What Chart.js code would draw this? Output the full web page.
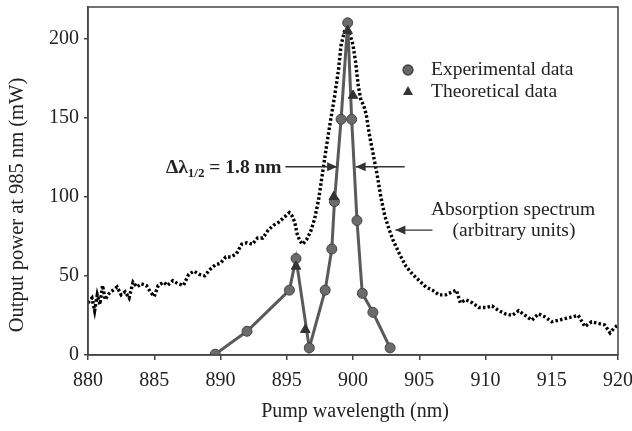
<!DOCTYPE html>
<html>
<head>
<meta charset="utf-8">
<script src="https://cdn.jsdelivr.net/npm/chart.js@4/dist/chart.umd.min.js"></script>
<style>
  html, body { margin: 0; padding: 0; background: #fff; }
</style>
</head>
<body>
<canvas id="c" width="632" height="431"></canvas>
<script>
// data
const expWl  = [889.6, 892.0, 895.2, 895.7, 896.7, 897.9, 898.4, 898.6, 899.1, 899.6, 899.9, 900.3, 900.7, 901.5, 902.8];
const expPow = [0.5, 15, 41, 61, 4.5, 41, 67, 97, 149, 210, 149, 85, 39, 27, 4.5];

const theoWl  = [895.7, 896.4, 898.55, 899.6, 900.0];
const theoPow = [56, 16, 100, 205, 164];

const absWl = [880.0, 880.3, 880.5, 880.7, 880.9, 881.1, 881.3, 881.6, 881.9, 882.2, 882.5, 882.8, 883.1, 883.4, 883.7,
  884.0, 884.4, 884.7, 885.0, 885.3, 885.7, 886.0, 886.4, 886.8, 887.2, 887.6, 888.0, 888.4, 888.8, 889.2, 889.6,
  890.0, 890.4, 890.8, 891.2, 891.6, 892.0, 892.4, 892.8, 893.2, 893.6, 894.0, 894.4, 894.8, 895.2, 895.4, 895.6,
  895.8, 896.0, 896.2, 896.5, 896.8, 897.1, 897.4, 897.7, 898.0, 898.3, 898.6, 898.9, 899.1, 899.4, 899.6, 899.8,
  900.0, 900.2, 900.4, 900.6, 900.8, 901.0, 901.2, 901.5, 901.8, 902.1, 902.4, 902.7, 903.0, 903.5, 904.0, 904.5,
  905.0, 905.5, 906.0, 906.5, 907.0, 907.5, 907.8, 908.1, 908.5, 909.0, 909.5, 910.0, 910.5, 911.0, 911.5, 912.0,
  912.5, 913.0, 913.5, 914.0, 914.5, 915.0, 915.5, 916.0, 916.5, 917.0, 917.5, 918.0, 918.5, 919.0, 919.4, 919.7, 920.0];
const absVal = [33, 36, 28, 38, 32, 44, 35, 39, 41, 43, 38, 40, 36, 46, 43,
  45, 44, 40, 37, 44, 46, 44, 47, 45, 44, 51, 53, 51, 50, 54, 57,
  58, 62, 62, 64, 70, 71, 70, 74, 74, 79, 82, 84, 87, 90, 88, 84,
  76, 72, 70, 73, 78, 86, 98, 115, 132, 148, 163, 180, 196, 206, 205, 202,
  196, 185, 170, 161, 158, 152, 141, 128, 115, 100, 88, 80, 73, 64, 56, 51,
  47, 43, 41, 38, 38, 40, 41, 33, 35, 33, 30, 30, 31, 28, 26, 25,
  28, 25, 22, 26, 24, 21, 22, 23, 24, 25, 18, 21, 20, 19, 14, 17, 19];

const xTicks = [880, 885, 890, 895, 900, 905, 910, 915, 920];
const yTicks = [0, 50, 100, 150, 200];

const pts = (xs, ys) => xs.map((v, i) => ({ x: v, y: ys[i] }));
const SERIF = '"Liberation Serif", "Times New Roman", serif';
const INK = '#222';
const AXIS = '#444';

// arrow with a filled head at (x2, y2)
function arrow(ctx, x1, y1, x2, y2) {
  ctx.beginPath();
  ctx.moveTo(x1, y1);
  ctx.lineTo(x2, y2);
  ctx.stroke();
  const dir = Math.sign(x2 - x1);
  ctx.beginPath();
  ctx.moveTo(x2, y2);
  ctx.lineTo(x2 - dir * 10, y2 - 4.5);
  ctx.lineTo(x2 - dir * 10, y2 + 4.5);
  ctx.closePath();
  ctx.fill();
}

// no extra room for tick label overflow, the layout padding decides
function noOverflow(s) {
  s.paddingTop = 0; s.paddingBottom = 0; s.paddingLeft = 0; s.paddingRight = 0;
}

const decor = {
  id: 'decor',
  afterDraw(chart) {
    const { ctx, chartArea: a, scales: { x, y } } = chart;
    ctx.save();
    // box round the plot
    ctx.strokeStyle = AXIS;
    ctx.lineWidth = 1.5;
    ctx.strokeRect(a.left, a.top, a.right - a.left, a.bottom - a.top);

    ctx.fillStyle = INK;
    ctx.strokeStyle = INK;
    ctx.lineWidth = 1.3;

    // legend
    const lx = 408;
    ctx.fillStyle = '#666';
    ctx.strokeStyle = '#444';
    ctx.beginPath(); ctx.arc(lx, 70, 5, 0, Math.PI * 2); ctx.fill(); ctx.stroke();
    ctx.fillStyle = '#333';
    ctx.beginPath(); ctx.moveTo(lx, 86); ctx.lineTo(lx + 5, 95); ctx.lineTo(lx - 5, 95); ctx.closePath(); ctx.fill();
    ctx.fillStyle = INK;
    ctx.font = '19.5px ' + SERIF;
    ctx.textBaseline = 'middle';
    ctx.fillText('Experimental data', 431, 70);
    ctx.fillText('Theoretical data', 431, 92);

    // FWHM annotation
    const yF = y.getPixelForValue(119);
    ctx.textBaseline = 'alphabetic';
    let tx = 166;
    ctx.font = 'bold 19.5px ' + SERIF;
    ctx.fillText('\u0394\u03bb', tx, yF + 6);
    tx += ctx.measureText('\u0394\u03bb').width;
    ctx.font = 'bold 13px ' + SERIF;
    ctx.fillText('1/2', tx, yF + 10);
    tx += ctx.measureText('1/2').width;
    ctx.font = 'bold 19.5px ' + SERIF;
    ctx.fillText(' = 1.8 nm', tx, yF + 6);
    ctx.strokeStyle = '#333';
    ctx.fillStyle = '#333';
    arrow(ctx, x.getPixelForValue(894.9), yF, x.getPixelForValue(898.8), yF);
    arrow(ctx, x.getPixelForValue(903.9), yF, x.getPixelForValue(900.2), yF);

    // absorption label
    const yA = y.getPixelForValue(79);
    arrow(ctx, x.getPixelForValue(906.0), yA, x.getPixelForValue(903.2), yA);
    ctx.fillStyle = INK;
    ctx.font = '19.5px ' + SERIF;
    ctx.textAlign = 'center';
    ctx.textBaseline = 'middle';
    ctx.fillText('Absorption spectrum', 513, 210);
    ctx.fillText('(arbitrary units)', 514, 231);

    // axis titles
    ctx.font = '20px ' + SERIF;
    ctx.fillText('Pump wavelength (nm)', 355, 412);
    ctx.font = '20.5px ' + SERIF;
    ctx.translate(18, 205);
    ctx.rotate(-Math.PI / 2);
    ctx.fillText('Output power at 985 nm (mW)', 0, 0);
    ctx.restore();
  }
};

new Chart(document.getElementById('c'), {
  type: 'scatter',
  data: {
    datasets: [
      {
        label: 'Theoretical data',
        data: pts(theoWl, theoPow),
        pointStyle: 'triangle',
        pointRadius: 5.5,
        backgroundColor: '#333',
        borderColor: '#333',
        borderWidth: 1,
        showLine: false,
        order: 1
      },
      {
        label: 'Experimental data',
        data: pts(expWl, expPow),
        showLine: true,
        borderColor: '#5a5a5a',
        borderWidth: 3,
        pointRadius: 5,
        pointBackgroundColor: '#6b6b6b',
        pointBorderColor: '#444',
        pointBorderWidth: 1,
        tension: 0,
        order: 2
      },
      {
        label: 'Absorption spectrum',
        data: pts(absWl, absVal),
        showLine: true,
        borderColor: '#000',
        borderWidth: 3.4,
        borderDash: [2.5, 2.2],
        pointRadius: 0,
        tension: 0,
        order: 3
      }
    ]
  },
  options: {
    responsive: false,
    animation: false,
    layout: { padding: { top: 7, right: 14, left: 0, bottom: 0 } },
    plugins: { legend: { display: false }, tooltip: { enabled: false } },
    scales: {
      x: {
        type: 'linear',
        min: 880,
        max: 920,
        afterBuildTicks(s) { s.ticks = xTicks.map(v => ({ value: v })); },
        afterFit(s) { s.height = 76; noOverflow(s); },
        ticks: { font: { family: SERIF, size: 20 }, color: INK, padding: 9 },
        grid: { drawOnChartArea: false, drawTicks: true, tickLength: 5, color: AXIS, lineWidth: 1.5 },
        border: { display: true, color: AXIS, width: 1.5 }
      },
      y: {
        min: 0,
        max: 220,
        afterBuildTicks(s) { s.ticks = yTicks.map(v => ({ value: v })); },
        afterFit(s) { s.width = 88; noOverflow(s); },
        ticks: { font: { family: SERIF, size: 20 }, color: INK, padding: 5 },
        grid: { drawOnChartArea: false, drawTicks: true, tickLength: 4, color: AXIS, lineWidth: 1.5 },
        border: { display: true, color: AXIS, width: 1.5 }
      }
    }
  },
  plugins: [decor]
});
</script>
</body>
</html>
